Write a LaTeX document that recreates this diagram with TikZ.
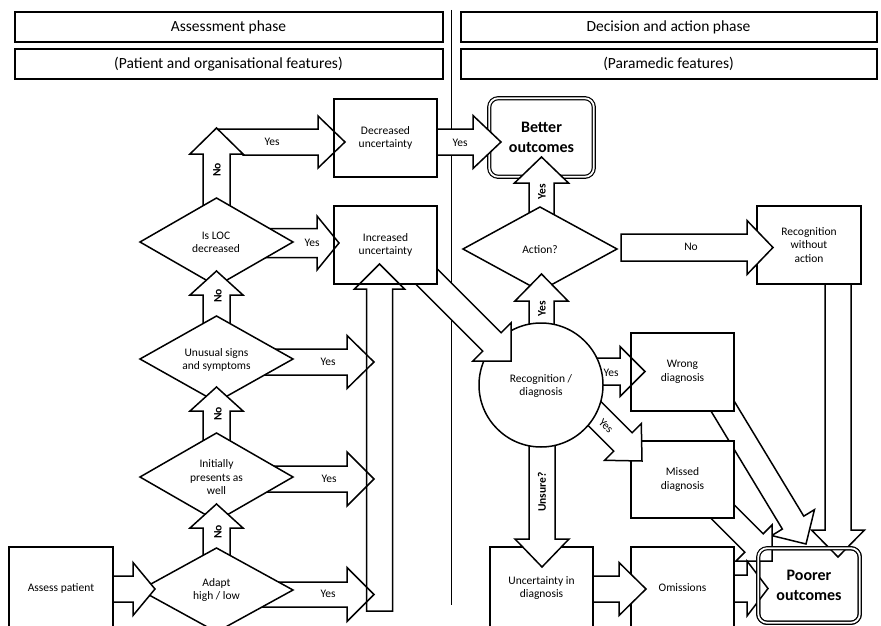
\documentclass[tikz,border=0pt]{standalone}
\usepackage{fontspec}
\setmainfont{Carlito}
\usetikzlibrary{calc,shapes.geometric}
\newcommand{\mytxt}{\fontsize{11.5}{13.5}\selectfont}
\newcommand{\mybtxt}{\fontsize{11.5}{13.5}\selectfont\bfseries}
\newcommand{\myhdr}{\fontsize{15.5}{18}\selectfont}
\newcommand{\myout}{\fontsize{16}{20}\selectfont\bfseries}
\newcommand{\blockarr}[6][]{%
  \coordinate (bA) at #2;
  \coordinate (bB) at #3;
  \coordinate (bH) at ($(bB)!#6!(bA)$);
  \path[blk,#1] ($(bA)!#4!-90:(bB)$) -- ($(bH)!#4!90:(bA)$) -- ($(bH)!#5!90:(bA)$) -- (bB) -- ($(bH)!#5!-90:(bA)$) -- ($(bH)!#4!-90:(bA)$) -- ($(bA)!#4!90:(bB)$) -- cycle;
}
\tikzset{
  boxs/.style={draw, rectangle, line width=1.5pt, fill=white, inner sep=0pt, outer sep=0pt, minimum width=103pt, minimum height=78pt, align=center, font=\mytxt},
  dias/.style={draw, diamond, line width=1.5pt, fill=white, inner sep=0pt, outer sep=0pt, minimum width=153pt, minimum height=88pt},
  hdr/.style={draw, rectangle, line width=2pt, inner sep=0pt, outer sep=0pt, minimum height=30pt, font=\myhdr},
  blk/.style={draw, fill=white, line width=1.5pt, line join=miter},
  dbl/.style={draw, double, double distance=1.8pt, line width=1.2pt, rounded corners=9pt},
  outbox/.style={dbl, fill=white, inner sep=0pt, outer sep=0pt, font=\myout, align=center},
  lbl/.style={font=\mytxt, inner sep=0pt, align=center},
  rlbl/.style={font=\mybtxt, inner sep=0pt, rotate=90},
}
\begin{document}
\begin{tikzpicture}[x=1pt,y=-1pt]
\useasboundingbox (0,0) rectangle (881,626);
% centres
\coordinate (cassess) at (61,588);
\coordinate (cadapt) at (216.5,590);
\coordinate (cinit) at (216.5,477);
\coordinate (cunus) at (216.5,359);
\coordinate (cloc) at (216.5,242);
\coordinate (cdec) at (385.5,138);
\coordinate (cinc) at (385.5,245);
\coordinate (cbetter) at (541.5,137.5);
\coordinate (caction) at (540,249);
\coordinate (crwa) at (809,245);
\coordinate (crec) at (541,385);
\coordinate (cwrong) at (682.5,372);
\coordinate (cmissed) at (682.5,479.5);
\coordinate (cunc) at (541.5,588);
\coordinate (comis) at (682.5,588);
\coordinate (cpoor) at (809,585.5);
% headers
\node[hdr, minimum width=428pt] (h1) at (228.5,27) {Assessment phase};
\node[hdr, minimum width=428pt] (h2) at (228.5,64) {(Patient and organisational features)};
\node[hdr, minimum width=416pt] (h3) at (668.5,27) {Decision and action phase};
\node[hdr, minimum width=416pt] (h4) at (668.5,64) {(Paramedic features)};
\coordinate (dtop) at (451,10);
\coordinate (dbot) at (451,605);
\draw[line width=1pt] (dtop) -- (dbot);
% poorer outcomes
\node[outbox, minimum width=101.6pt, minimum height=74.6pt] (poor) at (cpoor) {Poorer\\outcomes};
\blockarr{($(crwa)+(29,30)$)}{($(cpoor)+(29,-28.5)$)}{13pt}{26.5pt}{27pt}
\blockarr{($(cwrong)+(37,29)$)}{($(cpoor)+(-3,-41.5)$)}{12.5pt}{25pt}{25pt}
\blockarr{($(cmissed)+(29.5,21.5)$)}{($(cpoor)+(-37,-24.5)$)}{13pt}{25.5pt}{25.5pt}
\blockarr{($(comis)+(42.5,0.5)$)}{($(cpoor)+(-41,3)$)}{13.5pt}{27.5pt}{21pt}
\node[boxs, minimum width=104pt] (rwa) at (crwa) {Recognition\\without\\action};
\node[boxs] (wrong) at (cwrong) {Wrong\\diagnosis};
\node[boxs, minimum height=77pt] (missed) at (cmissed) {Missed\\diagnosis};
\node[boxs, minimum height=82pt] (omis) at (comis) {Omissions};
\blockarr{($(cunc)+(43.5,1)$)}{($(comis)+(-36.5,1)$)}{13pt}{26.5pt}{27pt}
\node[boxs, minimum height=82pt] (unc) at (cunc) {Uncertainty in\\diagnosis};
% better outcomes
\node[outbox, minimum width=104.6pt, minimum height=78.6pt] (better) at (cbetter) {Better\\outcomes};
\blockarr{($(caction)+(1.5,-24)$)}{($(cbetter)+(0,19.5)$)}{12.5pt}{27pt}{26pt}
\blockarr{($(caction)+(81,-1.5)$)}{($(crwa)+(-36,2.5)$)}{13.5pt}{27pt}{26pt}
\node[dias, minimum width=154pt, minimum height=84pt] (action) at (caction) {};
% recognition circle
\blockarr{($(crec)+(0.5,-45)$)}{($(caction)+(1.5,25)$)}{12.5pt}{26.5pt}{27pt}
\blockarr{($(crec)+(44,-13.5)$)}{($(cwrong)+(-37.5,-0.5)$)}{13.5pt}{25pt}{25pt}
\blockarr{($(crec)+(44,19)$)}{($(cmissed)+(-40.5,-18.5)$)}{13pt}{26pt}{27pt}
\blockarr{($(crec)+(1,45)$)}{($(cunc)+(0.5,-21)$)}{13pt}{27pt}{28pt}
\node[draw, circle, line width=1.5pt, fill=white, inner sep=0pt, outer sep=0pt, minimum size=124pt] (rec) at (crec) {};
\blockarr{($(cinc)+(29.5,20)$)}{($(crec)+(-30,-24)$)}{13pt}{27pt}{27pt}
\blockarr{($(cdec)+(44.5,4)$)}{($(cbetter)+(-40.5,4.5)$)}{13pt}{26.5pt}{28pt}
\node[boxs] (inc) at (cinc) {Increased\\uncertainty};
\node[boxs] (dec) at (cdec) {Decreased\\uncertainty};
% left column
\path[blk] ($(cloc)+(0,-113)$) -- ($(cdec)+(-67.5,-9)$) -- ($(cdec)+(-67.5,-22)$) -- ($(cdec)+(-40.5,4)$) -- ($(cdec)+(-67.5,30)$) -- ($(cdec)+(-67.5,17)$) -- ($(cloc)+(26.5,-87)$) -- cycle;
\blockarr{($(cloc)+(0,-32)$)}{($(cloc)+(0,-114)$)}{13.5pt}{26.5pt}{26pt}
\blockarr{($(cloc)+(35,1)$)}{($(cinc)+(-46.5,-2)$)}{14.5pt}{27pt}{22pt}
\node[dias] (loc) at (cloc) {};
\blockarr{($(cunus)+(0,-31)$)}{($(cloc)+(0,29)$)}{13.5pt}{26.5pt}{24pt}
\blockarr{($(cunus)+(40,3)$)}{($(cunus)+(157.5,3)$)}{13pt}{26.5pt}{27pt}
\node[dias, minimum height=86pt] (unus) at (cunus) {};
\blockarr{($(cinit)+(0,-32)$)}{($(cunus)+(0,28)$)}{13.5pt}{26.5pt}{24pt}
\blockarr{($(cinit)+(40,2)$)}{($(cinit)+(157.5,2)$)}{13pt}{27pt}{27pt}
\node[dias] (init) at (cinit) {};
\blockarr{($(cadapt)+(0,-30)$)}{($(cinit)+(0,27)$)}{13.5pt}{26.5pt}{24pt}
\blockarr{($(cadapt)+(40,4.5)$)}{($(cadapt)+(157.5,4.5)$)}{12.5pt}{27pt}{27pt}
\node[dias, minimum height=84pt] (adapt) at (cadapt) {};
\blockarr{($(cassess)+(44,1)$)}{($(cadapt)+(-61.5,-1)$)}{13pt}{26.5pt}{22pt}
\node[boxs, minimum width=104pt, minimum height=82pt] (assess) at (cassess) {Assess patient};
% big upward arrow into increased uncertainty
\blockarr[fill=none]{($(cinc)+(-6,366)$)}{($(cinc)+(-6,19)$)}{13pt}{25pt}{25pt}
% outlines on top
\foreach \n in {dec,inc,wrong} \draw[line width=1.5pt] (\n.north west) rectangle (\n.south east);
\draw[dbl] (poor.north west) rectangle (poor.south east);
% texts
\node[lbl] (t1) at (216.5,590) {Adapt\\high / low};
\node[lbl] (t2) at (216.5,477.5) {Initially\\presents as\\well};
\node[lbl] (t3) at (216.5,360) {Unusual signs\\and symptoms};
\node[lbl] (t4) at (216,242.5) {Is LOC\\decreased};
\node[lbl] (t5) at (540,250) {Action?};
\node[lbl] (t6) at (541,386) {Recognition /\\diagnosis};
\node[lbl] (l1) at (272,142) {Yes};
\node[rlbl] (l2) at (217,170) {No};
\node[lbl] (l3) at (312,243) {Yes};
\node[rlbl] (l4) at (218,296) {No};
\node[rlbl] (l5) at (218,414) {No};
\node[rlbl] (l6) at (218,532) {No};
\node[lbl] (l7) at (328,362) {Yes};
\node[lbl] (l8) at (329,479) {Yes};
\node[lbl] (l9) at (328,594) {Yes};
\node[lbl] (l10) at (460,143) {Yes};
\node[rlbl] (l11) at (542,192) {Yes};
\node[rlbl] (l12) at (542,309) {Yes};
\node[lbl] (l13) at (691,247) {No};
\node[lbl] (l14) at (611,373) {Yes};
\node[lbl, rotate=-45] (l15) at (606,426) {Yes};
\node[rlbl] (l16) at (542,492) {Unsure?};
\end{tikzpicture}
\end{document}
